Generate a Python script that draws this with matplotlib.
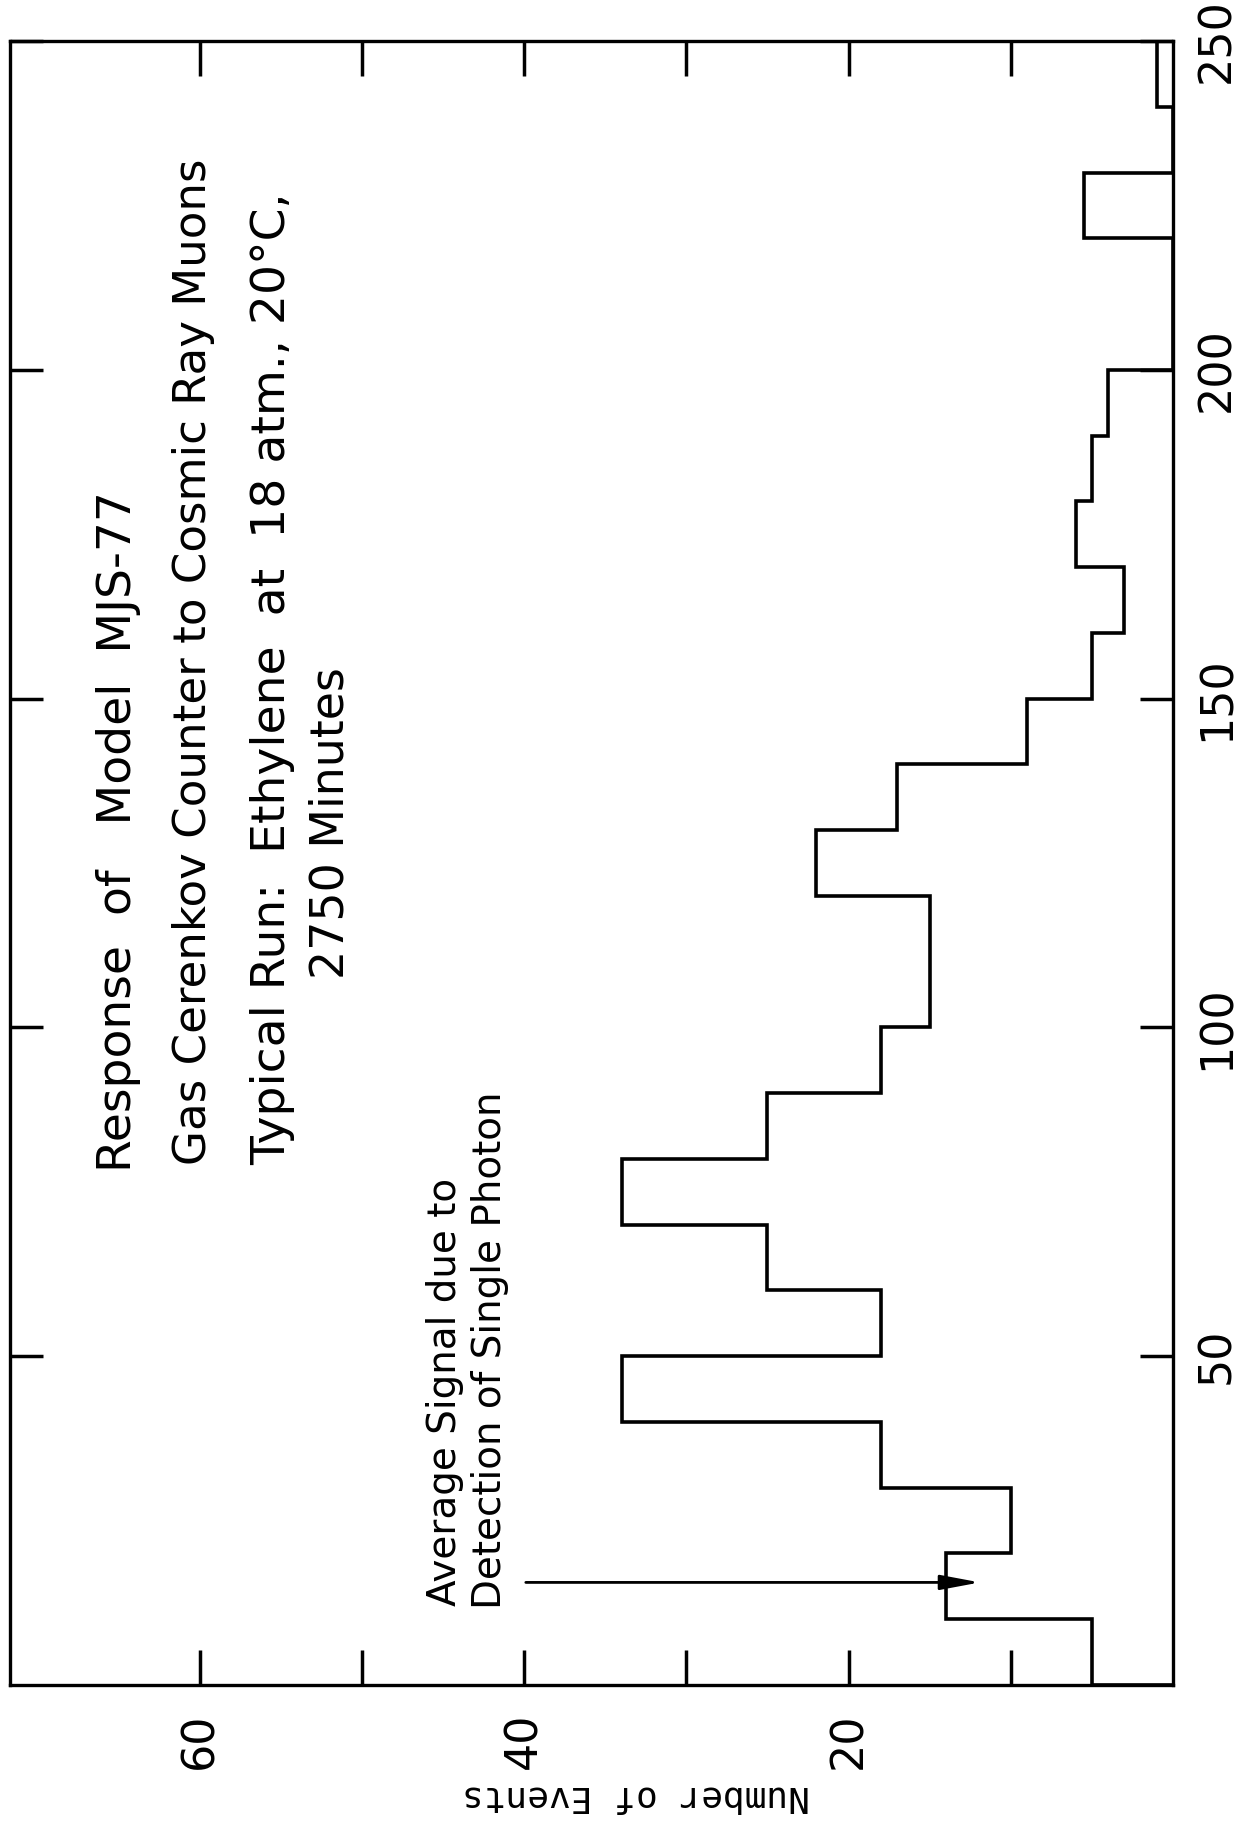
import numpy as np
import matplotlib
matplotlib.use("Agg")
import matplotlib.pyplot as plt

# ---- data (histogram of events per channel bin) ----
channel_edges = [0, 10, 20, 30, 40, 50, 60, 70, 80, 90, 100, 110, 120, 130,
                 140, 150, 160, 170, 180, 190, 200, 210, 220, 230, 240, 250]
event_counts = [5, 14, 10, 18, 34, 18, 25, 34, 25, 18, 15, 15, 22, 17,
                9, 5, 3, 6, 5, 4, 0, 0, 5.5, 0, 1]

event_major_ticks = [20, 40, 60]
event_major_labels = ["20", "40", "60"]
event_minor_ticks = [10, 30, 50]
channel_ticks = [50, 100, 150, 200, 250]
channel_labels = ["50", "100", "150", "200", "250"]

title_lines = ["Response  of   Model  MJS-77",
               "Gas Cerenkov Counter to Cosmic Ray Muons",
               "Typical Run:  Ethylene  at  18 atm., 20\u00b0C,",
               "2750 Minutes"]
note_lines = ["Average Signal due to", "Detection of Single Photon"]
axis_label = "Number of Events"

W, H = 1249, 1828
fig = plt.figure(figsize=(W / 100, H / 100), dpi=100)
fig.patch.set_facecolor("white")
ax = fig.add_axes([10 / W, 1 - 1685 / H, (1173 - 10) / W, (1685 - 41) / H])

ax.stairs(event_counts, channel_edges, orientation="horizontal", baseline=0,
          color="black", lw=2.6)

ax.set_xlim(71.7, 0)
ax.set_ylim(0, 250)

for s in ax.spines.values():
    s.set_linewidth(2.4)

ax.set_xticks(event_major_ticks, event_major_labels)
ax.set_xticks(event_minor_ticks, minor=True)
ax.set_yticks(channel_ticks, channel_labels)

ax.tick_params(axis="x", which="both", direction="in", top=True, bottom=True,
               length=25, width=2.5)
ax.tick_params(axis="x", which="major", labelsize=32, labelrotation=90, pad=20)
ax.tick_params(axis="y", which="both", direction="in", left=True, right=True,
               labelleft=False, labelright=True, length=24, width=2.5,
               labelsize=32, labelrotation=90, pad=16)
for lab in ax.get_xticklabels() + ax.get_yticklabels():
    lab.set_family("DejaVu Sans")
for lab in ax.get_yticklabels():
    lab.set_va("center")

title_font = "DejaVu Sans"
ax.text(65.0, 78, title_lines[0], rotation=90, ha="center", va="bottom",
        fontsize=34, family=title_font)
ax.text(60.4, 79, title_lines[1], rotation=90, ha="center", va="bottom",
        fontsize=32.5, family=title_font)
ax.text(55.5, 79, title_lines[2], rotation=90, ha="center", va="bottom",
        fontsize=34, family=title_font)
ax.text(51.9, 131, title_lines[3], rotation=90, ha="center", va="center",
        fontsize=33, family=title_font)

ax.text(44.9, 12.0, note_lines[0], rotation=90, ha="center", va="bottom",
        fontsize=28, family="DejaVu Sans")
ax.text(42.1, 11.5, note_lines[1], rotation=90, ha="center", va="bottom",
        fontsize=28, family="DejaVu Sans")

ax.annotate("", xy=(11.9, 15.6), xytext=(39.9, 15.6),
            arrowprops=dict(arrowstyle="-|>,head_length=0.8,head_width=0.15",
                            color="black", lw=2.0, mutation_scale=30,
                            shrinkA=0, shrinkB=0))

fig.text(636 / W, 1 - 1796 / H, axis_label, rotation=180, ha="center",
         va="center", fontsize=26, family="DejaVu Sans Mono")

fig.savefig("out.png", dpi=100, facecolor="white")
